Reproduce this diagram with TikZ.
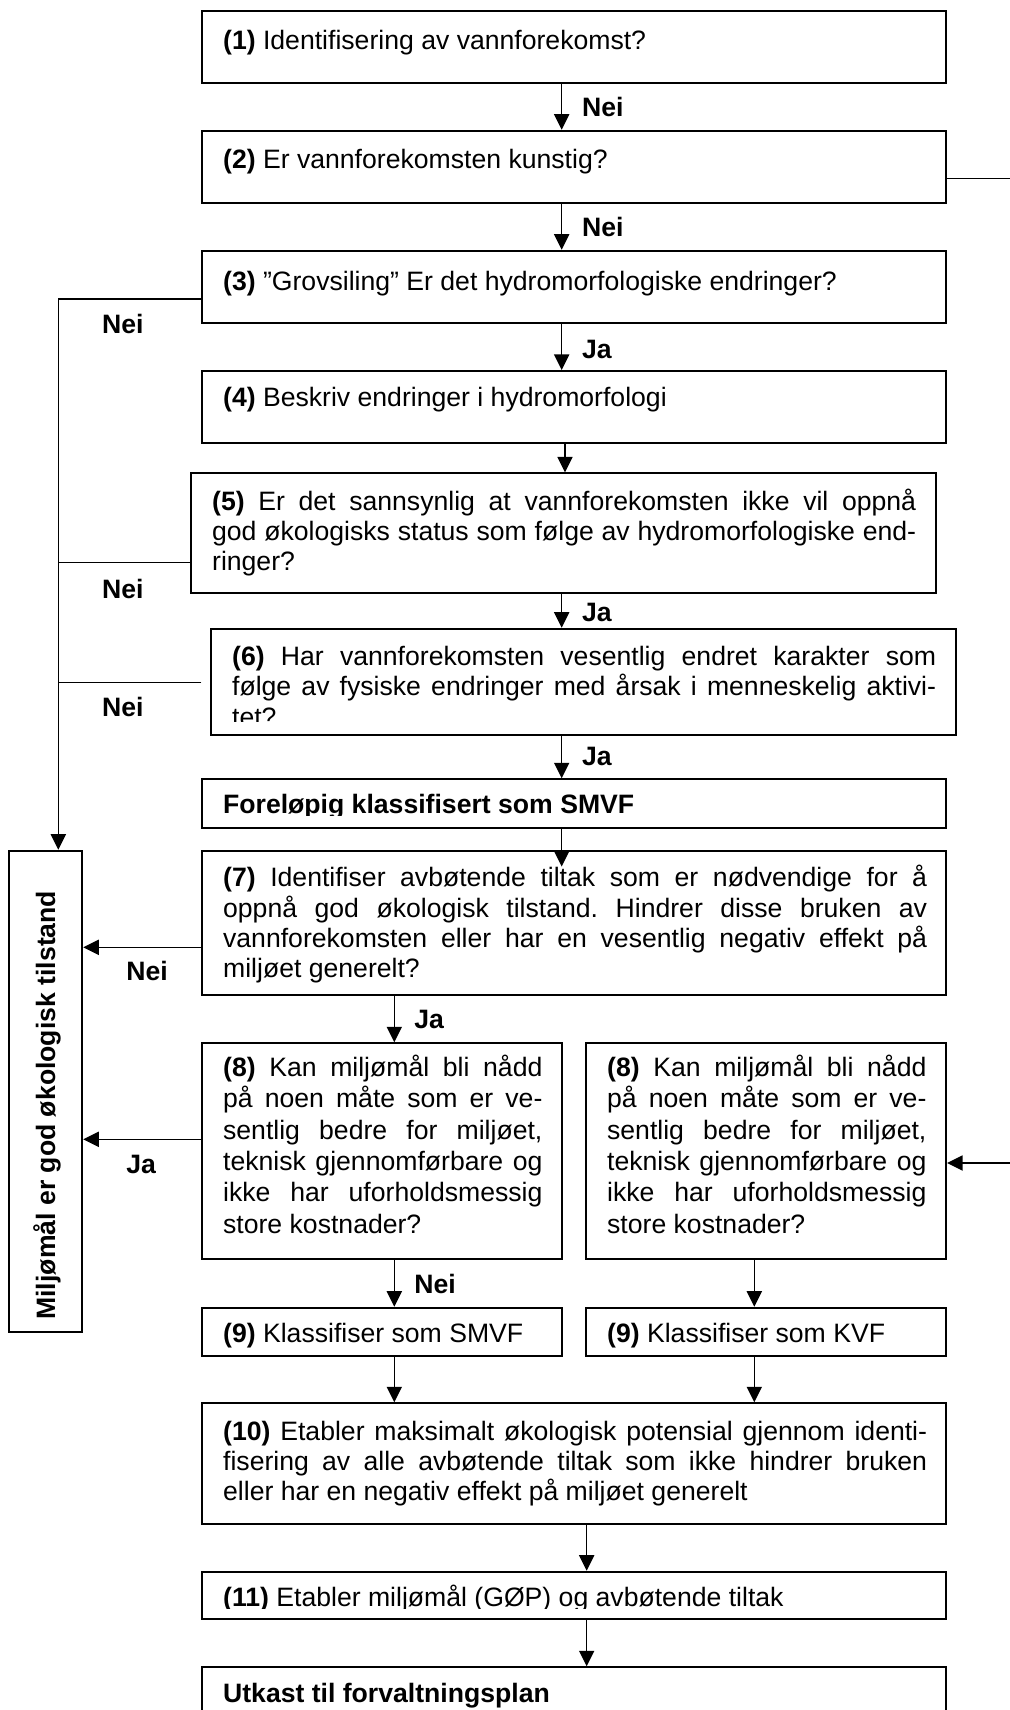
\documentclass[tikz,border=0pt]{standalone}
\usepackage{fontspec}
\setmainfont{Liberation Sans}
\usetikzlibrary{arrows.meta,fit}
\frenchspacing

\begin{document}
\begin{tikzpicture}[x=0.451pt, y=-0.451pt,
    box/.style={draw, line width=0.9pt, inner sep=0pt},
    txt/.style={anchor=base west, inner sep=0pt, text width=317.5pt, align=justify,
        font=\fontsize{12pt}{13.67pt}\selectfont},
    half/.style={txt, text width=144pt, font=\fontsize{12pt}{14.1pt}\selectfont},
    lbl/.style={anchor=base west, inner sep=0pt, font=\bfseries\fontsize{12pt}{13.67pt}\selectfont},
    conn/.style={line width=0.7pt},
    arr/.style={conn, -{Triangle[length=7pt, width=6.8pt]}}]
    \useasboundingbox (0,0) rectangle (1010,1710);

    % columns
    \coordinate (L) at (58.3,0);
    \coordinate (R) at (1010,0);
    \coordinate (c1) at (561.7,0);
    \coordinate (c2) at (565,0);
    \coordinate (c8a) at (394.3,0);
    \coordinate (c8b) at (754.3,0);
    \coordinate (c10) at (586.7,0);

    % boxes
    \node[box, fit={(201.7,10.7) (946,82.7)}] (b1) {};
    \node[box, fit={(201.7,130.7) (946,203.3)}] (b2) {};
    \node[box, fit={(201.7,250.7) (946,323.3)}] (b3) {};
    \node[box, fit={(201.7,371) (946,443.3)}] (b4) {};
    \node[box, fit={(190.7,473.3) (935.7,593.3)}] (b5) {};
    \node[box, fit={(211.3,628.7) (956,735)}] (b6) {};
    \node[box, fit={(201.7,779.3) (946,827.7)}] (bf) {};
    \node[box, fit={(201.7,850.7) (946,995.3)}] (b7) {};
    \node[box, fit={(9.3,850.7) (82.3,1331.7)}] (bm) {};
    \node[box, fit={(201.7,1043.3) (562.3,1259.3)}] (b8a) {};
    \node[box, fit={(586,1043.3) (946,1259.3)}] (b8b) {};
    \node[box, fit={(201.7,1307.7) (562.3,1356)}] (b9a) {};
    \node[box, fit={(586,1307.7) (946,1356)}] (b9b) {};
    \node[box, fit={(201.7,1403.3) (946,1524)}] (b10) {};
    \node[box, fit={(201.7,1571.7) (946,1619.3)}] (b11) {};
    \node[box, fit={(201.7,1667.3) (946,1760)}] (b12) {};

    % texts
    \node[txt] (t1) at (222.7,49) {\textbf{(1)} Identifisering av vannforekomst?};
    \node[txt] (t2) at (222.7,168.3) {\textbf{(2)} Er vannforekomsten kunstig?};
    \node[txt] (t3) at (222.7,290) {\textbf{(3)} ”Grovsiling” Er det hydromorfologiske endringer?};
    \node[txt] (t4) at (222.7,406.7) {\textbf{(4)} Beskriv endringer i hydromorfologi};
    \node[txt] (t5) at (211.7,510) {\textbf{(5)} Er det sannsynlig at vannforekomsten ikke vil oppnå\linebreak
        god økologisks status som følge av hydromorfologiske end-\linebreak ringer?};
    \begin{scope}
        \clip (b6.north west) rectangle (956,721.5);
        \node[txt] (t6) at (231.7,665.5) {\textbf{(6)} Har vannforekomsten vesentlig endret karakter som\linebreak
            følge av fysiske endringer med årsak i menneskelig aktivi-\linebreak tet?};
    \end{scope}
    \begin{scope}
        \clip (bf.north west) rectangle (946,815);
        \node[txt, font=\bfseries\fontsize{12pt}{13.67pt}\selectfont] (tf) at (222.7,813.3) {Foreløpig klassifisert som SMVF};
    \end{scope}
    \node[txt] (t7) at (222.7,886.7) {\textbf{(7)} Identifiser avbøtende tiltak som er nødvendige for å\linebreak
        oppnå god økologisk tilstand. Hindrer disse bruken av\linebreak
        vannforekomsten eller har en vesentlig negativ effekt på\linebreak miljøet generelt?};
    \node[half] (t8a) at (222.7,1076.7) {\textbf{(8)} Kan miljømål bli nådd\linebreak
        på noen måte som er ve-\linebreak sentlig bedre for miljøet,\linebreak
        teknisk gjennomførbare og\linebreak ikke har uforholdsmessig\linebreak store kostnader?};
    \node[half] (t8b) at (606.7,1076.7) {\textbf{(8)} Kan miljømål bli nådd\linebreak
        på noen måte som er ve-\linebreak sentlig bedre for miljøet,\linebreak
        teknisk gjennomførbare og\linebreak ikke har uforholdsmessig\linebreak store kostnader?};
    \node[half] (t9a) at (222.7,1342.3) {\textbf{(9)} Klassifiser som SMVF};
    \node[half] (t9b) at (606.7,1342.3) {\textbf{(9)} Klassifiser som KVF};
    \node[txt] (t10) at (222.7,1440) {\textbf{(10)} Etabler maksimalt økologisk potensial gjennom identi-\linebreak
        fisering av alle avbøtende tiltak som ikke hindrer bruken\linebreak
        eller har en negativ effekt på miljøet generelt};
    \begin{scope}
        \clip (b11.north west) rectangle (946,1608.3);
        \node[txt] (t11) at (222.7,1606.7) {\textbf{(11)} Etabler miljømål (GØP) og avbøtende tiltak};
    \end{scope}
    \node[txt, font=\bfseries\fontsize{12pt}{13.67pt}\selectfont] (t12) at (222.7,1702.7) {Utkast til forvaltningsplan};
    \node[lbl, rotate=90] (tm) at (55,1320) {Miljømål er god økologisk tilstand};

    % arrows down the main column
    \draw[arr] (b1.south -| c1) -- (b2.north -| c1);
    \draw[arr] (b2.south -| c1) -- (b3.north -| c1);
    \draw[arr] (b3.south -| c1) -- (b4.north -| c1);
    \draw[arr] (b4.south -| c2) -- (b5.north -| c2);
    \draw[arr] (b5.south -| c1) -- (b6.north -| c1);
    \draw[arr] (b6.south -| c1) -- (bf.north -| c1);
    \draw[arr, shorten >=-7.6pt] (bf.south -| c1) -- (b7.north -| c1);
    \draw[arr] (b7.south -| c8a) -- (b8a.north -| c8a);
    \draw[arr] (b8a.south -| c8a) -- (b9a.north -| c8a);
    \draw[arr] (b8b.south -| c8b) -- (b9b.north -| c8b);
    \draw[arr] (b9a.south -| c8a) -- (b10.north -| c8a);
    \draw[arr] (b9b.south -| c8b) -- (b10.north -| c8b);
    \draw[arr] (b10.south -| c10) -- (b11.north -| c10);
    \draw[arr] (b11.south -| c10) -- (b12.north -| c10);

    % arrows to the left box
    \draw[arr] (b3.west |- 0,299) -| (bm.north -| L);
    \draw[conn] (b5.west |- 0,562.7) -- (L |- 0,562.7);
    \draw[conn, shorten <=4pt] (b6.west |- 0,682.7) -- (L |- 0,682.7);
    \draw[arr] (b7.west |- 0,947.3) -- (bm.east |- 0,947.3);
    \draw[arr] (b8a.west |- 0,1139.3) -- (bm.east |- 0,1139.3);

    % lines at the right edge
    \draw[conn] (b2.east |- 0,178.3) -- (R |- 0,178.3);
    \draw[arr] (R |- 0,1163) -- (b8b.east |- 0,1163);

    % labels
    \node[lbl] (n12) at (581.7,116.7) {Nei};
    \node[lbl] (n23) at (581.7,236.7) {Nei};
    \node[lbl] (j34) at (581.7,358.3) {Ja};
    \node[lbl] (j56) at (581.7,621.7) {Ja};
    \node[lbl] (j6f) at (581.7,765) {Ja};
    \node[lbl] (n3) at (101.7,333.3) {Nei};
    \node[lbl] (n5) at (101.7,598.3) {Nei};
    \node[lbl] (n6) at (101.7,716.7) {Nei};
    \node[lbl] (n7) at (126,980.7) {Nei};
    \node[lbl] (j8) at (126,1173.3) {Ja};
    \node[lbl] (j78) at (414,1028.3) {Ja};
    \node[lbl] (n89) at (414,1293.3) {Nei};
\end{tikzpicture}
\end{document}
